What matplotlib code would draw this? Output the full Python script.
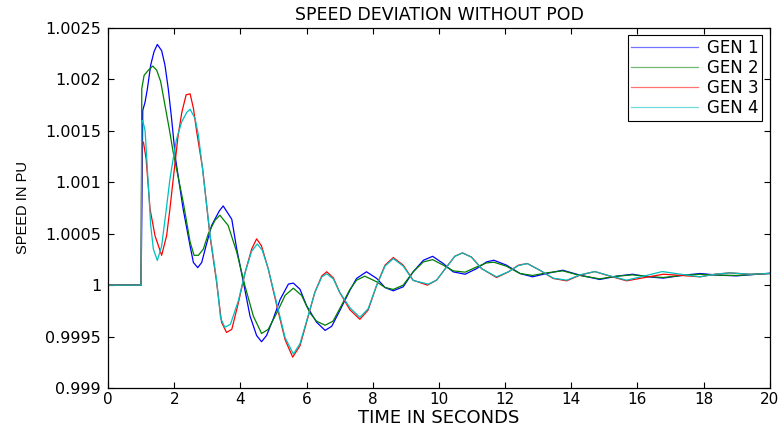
import matplotlib
matplotlib.use("Agg")
import matplotlib.pyplot as plt
from matplotlib.ticker import FuncFormatter
from matplotlib import font_manager

title = "SPEED DEVIATION WITHOUT POD"
xlabel = "TIME IN SECONDS"
ylabel = "SPEED IN PU"
labels = ["GEN 1", "GEN 2", "GEN 3", "GEN 4"]
xticks = [0, 2, 4, 6, 8, 10, 12, 14, 16, 18, 20]
yticks = [0.999, 0.9995, 1.0, 1.0005, 1.001, 1.0015, 1.002, 1.0025]

gen1_t = [0, 0.99, 1.0, 1.05, 1.12, 1.19, 1.29, 1.39, 1.49, 1.62, 1.72, 1.82, 1.92, 2.04,
          2.27, 2.48, 2.58, 2.71, 2.83, 2.96, 3.13, 3.36, 3.48, 3.74, 3.89, 4.09, 4.29,
          4.49, 4.64, 4.79, 4.99, 5.2, 5.45, 5.6, 5.8, 6.0, 6.3, 6.56, 6.76, 7.0, 7.31,
          7.51, 7.81, 8.12, 8.37, 8.62, 8.92, 9.22, 9.53, 9.81, 10.13, 10.43, 10.79,
          11.14, 11.44, 11.66, 12.04, 12.45, 12.83, 13.25, 13.74, 14.26, 14.86, 15.37,
          15.85, 16.32, 16.78, 17.33, 17.89, 18.44, 18.99, 20]
gen1_y = [1.0, 1.0, 1.0, 1.0017, 1.00178, 1.00191, 1.00214, 1.00227, 1.00234, 1.00228,
          1.00214, 1.00191, 1.00162, 1.00123, 1.00074, 1.00038, 1.00022, 1.00017, 1.00022,
          1.00038, 1.00058, 1.00072, 1.00077, 1.00064, 1.00035, 1.00003, 0.9997, 0.99951,
          0.99945, 0.99951, 0.99967, 0.99986, 1.00001, 1.00002, 0.99996, 0.9998, 0.99964,
          0.99956, 0.9996, 0.99975, 0.99995, 1.000065, 1.00013, 1.000065, 0.999977,
          0.999945, 0.999984, 1.000129, 1.000242, 1.00028, 1.00021, 1.000129, 1.000106,
          1.000161, 1.000226, 1.000242, 1.000194, 1.000113, 1.000081, 1.000113, 1.000145,
          1.000097, 1.000055, 1.000087, 1.000106, 1.000081, 1.000068, 1.000094, 1.000113,
          1.000097, 1.00009, 1.000116]

gen2_t = [0, 0.99, 1.0, 1.02, 1.09, 1.22, 1.35, 1.47, 1.59, 1.72, 1.85, 1.97, 2.07, 2.27,
          2.48, 2.60, 2.73, 2.88, 3.03, 3.23, 3.38, 3.63, 3.89, 4.14, 4.39, 4.64, 4.84,
          5.1, 5.35, 5.6, 5.85, 6.1, 6.3, 6.56, 6.8, 7.0, 7.31, 7.51, 7.76, 8.12, 8.37,
          8.62, 8.92, 9.22, 9.53, 9.81, 10.13, 10.43, 10.79, 11.14, 11.44, 11.66, 12.04,
          12.45, 12.83, 13.25, 13.74, 14.26, 14.86, 15.37, 15.85, 16.32, 16.78, 17.33,
          17.89, 18.44, 18.99, 20]
gen2_y = [1.0, 1.0, 1.0, 1.00191, 1.00204, 1.00209, 1.00213, 1.00209, 1.00198, 1.00175,
          1.00152, 1.00129, 1.00113, 1.00081, 1.00042, 1.00029, 1.00029, 1.00035, 1.0005,
          1.00063, 1.00068, 1.00058, 1.00032, 0.99999, 0.9997, 0.99953, 0.99957, 0.99973,
          0.9999, 0.99997, 0.9999, 0.99973, 0.99965, 0.99961, 0.99965, 0.99977, 0.999958,
          1.000048, 1.000087, 1.000032, 0.999977, 0.999958, 1.0, 1.000129, 1.000226,
          1.000248, 1.000194, 1.000139, 1.000126, 1.000177, 1.000216, 1.000223, 1.000184,
          1.000113, 1.000094, 1.000119, 1.000139, 1.000094, 1.000061, 1.000087, 1.0001,
          1.000084, 1.000074, 1.000094, 1.000106, 1.000097, 1.000094, 1.000113]

gen3_t = [0, 0.99, 1.0, 1.02, 1.07, 1.15, 1.27, 1.42, 1.62, 1.77, 1.87, 1.97, 2.04, 2.12,
          2.23, 2.36, 2.48, 2.58, 2.68, 2.78, 2.86, 3.08, 3.28, 3.43, 3.58, 3.74, 3.94,
          4.14, 4.34, 4.49, 4.64, 4.84, 5.1, 5.35, 5.58, 5.8, 6.0, 6.25, 6.46, 6.61, 6.81,
          7.0, 7.31, 7.61, 7.86, 8.12, 8.37, 8.62, 8.92, 9.22, 9.65, 9.93, 10.23, 10.48,
          10.71, 10.98, 11.29, 11.74, 12.1, 12.4, 12.67, 13.05, 13.45, 13.86, 14.26, 14.71,
          15.17, 15.67, 16.22, 16.78, 17.33, 17.89, 18.34, 18.79, 19.4, 20]
gen3_y = [1.0, 1.0, 1.0, 1.00139, 1.00139, 1.00123, 1.00074, 1.00048, 1.00029, 1.00048,
          1.00074, 1.00103, 1.00123, 1.00146, 1.00168, 1.00185, 1.00186, 1.00172, 1.00149,
          1.00129, 1.00113, 1.00048, 1.00003, 0.99964, 0.99954, 0.99957, 0.99983, 1.00012,
          1.00035, 1.00045, 1.00038, 1.00016, 0.9998, 0.99947, 0.9993, 0.99941, 0.99964,
          0.99993, 1.00009, 1.00013, 1.00007, 0.99993, 0.99976, 0.999668, 0.999758, 1.0,
          1.000194, 1.000268, 1.000194, 1.000048, 1.0, 1.000048, 1.000177, 1.000281,
          1.000313, 1.000274, 1.000161, 1.000074, 1.000129, 1.000194, 1.00021, 1.000145,
          1.000065, 1.000042, 1.000097, 1.000132, 1.000087, 1.000042, 1.000074, 1.000106,
          1.000094, 1.000081, 1.000106, 1.000119, 1.000106, 1.000113]

gen4_t = [0, 0.99, 1.0, 1.02, 1.05, 1.12, 1.17, 1.29, 1.37, 1.49, 1.62, 1.75, 1.87, 1.97,
          2.07, 2.23, 2.38, 2.48, 2.63, 2.73, 2.83, 3.08, 3.28, 3.40, 3.53, 3.70, 3.94,
          4.14, 4.34, 4.51, 4.66, 4.84, 5.1, 5.35, 5.6, 5.8, 6.0, 6.25, 6.46, 6.61, 6.81,
          7.0, 7.31, 7.61, 7.86, 8.12, 8.37, 8.62, 8.92, 9.22, 9.68, 9.93, 10.23, 10.48,
          10.71, 10.98, 11.29, 11.74, 12.1, 12.4, 12.67, 13.05, 13.45, 13.86, 14.26, 14.71,
          15.17, 15.67, 16.22, 16.75, 17.33, 17.89, 18.34, 18.79, 19.4, 20]
gen4_y = [1.0, 1.0, 1.0, 1.0016, 1.0016, 1.0015, 1.00123, 1.00058, 1.00035, 1.00024,
          1.00038, 1.00071, 1.00103, 1.00123, 1.00142, 1.00159, 1.00168, 1.00171, 1.00162,
          1.00146, 1.0012, 1.0005, 1.00005, 0.99968, 0.99959, 0.99962, 0.99985, 1.00012,
          1.00033, 1.0004, 1.00034, 1.00016, 0.99982, 0.99949, 0.99933, 0.99943, 0.99965,
          0.99993, 1.00008, 1.00011, 1.00006, 0.99993, 0.99978, 0.999687, 0.99977, 1.0,
          1.000185, 1.000258, 1.000185, 1.000045, 1.00001, 1.00005, 1.000175, 1.00028,
          1.000313, 1.000272, 1.00016, 1.000081, 1.00013, 1.00019, 1.00021, 1.000145,
          1.000068, 1.000048, 1.0001, 1.000132, 1.00009, 1.000048, 1.00009, 1.000132,
          1.000105, 1.000081, 1.000106, 1.000119, 1.000106, 1.000113]

colors = ["#0000FF", "#008000", "#FF0000", "#00BFBF"]

plt.rcParams['font.family'] = ['DejaVu Sans']

# narrow font for the rotated y label if available
try:
    font_manager.findfont(font_manager.FontProperties(family='Liberation Sans Narrow'),
                          fallback_to_default=False)
    ylab_family = 'Liberation Sans Narrow'
    ylab_size = 12.5
except Exception:
    ylab_family = 'Liberation Sans'
    ylab_size = 10.5

fig = plt.figure(figsize=(7.8, 4.3), dpi=100)
ax = fig.add_axes([0.1385, 0.0977, 0.8485, 0.8372])

series = [(gen1_t, gen1_y), (gen2_t, gen2_y), (gen3_t, gen3_y), (gen4_t, gen4_y)]
for (t, y), c, lab in zip(series, colors, labels):
    ax.plot(t, y, color=c, lw=0.9, label=lab)

ax.set_xlim(0, 20)
ax.set_ylim(0.999, 1.0025)
ax.set_xticks(xticks)
ax.set_yticks(yticks)
ax.yaxis.set_major_formatter(FuncFormatter(lambda v, p: "%g" % round(v, 6)))
ax.xaxis.set_major_formatter(FuncFormatter(lambda v, p: "%g" % v))
ax.tick_params(direction='in', top=True, right=True, length=4, width=0.8,
               colors='black')
ax.tick_params(axis='x', labelsize=11, pad=3)
ax.tick_params(axis='y', labelsize=11.5, pad=5)
for s in ax.spines.values():
    s.set_linewidth(0.9)
    s.set_color('black')

ax.set_title(title, fontsize=12.5, pad=6)
ax.set_xlabel(xlabel, fontsize=13, labelpad=1.5)
ax.set_ylabel(ylabel, fontsize=ylab_size, family=ylab_family, labelpad=11)

leg = ax.legend(loc='upper right', fancybox=False, edgecolor='black', framealpha=1,
                prop={'size': 12}, handlelength=4.0, labelspacing=0.12,
                borderaxespad=0.45, borderpad=0.22, handletextpad=0.55)
leg.get_frame().set_linewidth(0.8)
for line in leg.get_lines():
    line.set_alpha(0.55)

fig.savefig("out.png", dpi=100)
